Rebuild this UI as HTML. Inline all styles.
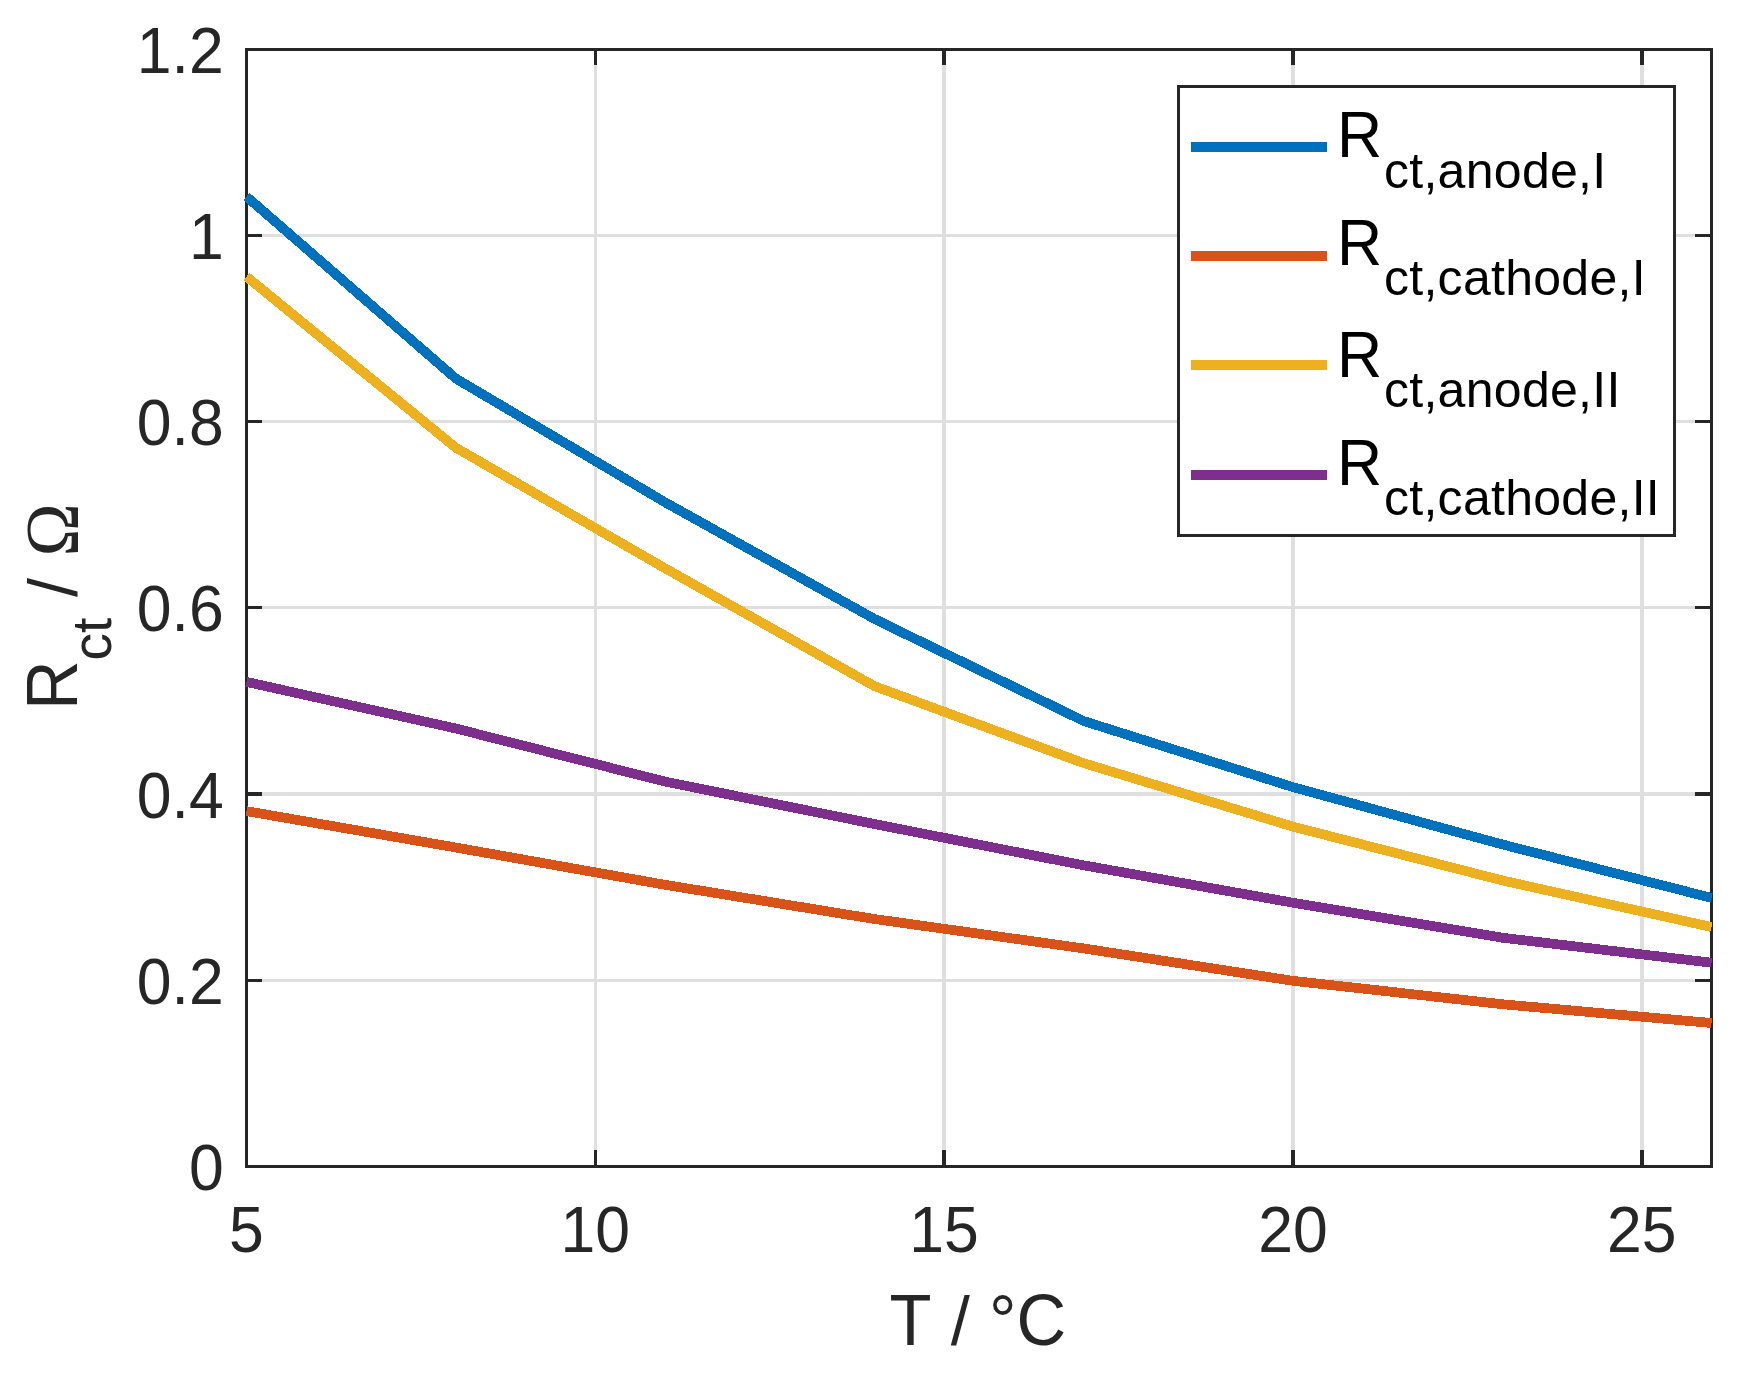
<!DOCTYPE html>
<html lang="en">
<head>
<meta charset="utf-8">
<title>Rct vs T</title>
<style>
html,body{margin:0;padding:0;background:#fff;}
body{width:1742px;height:1374px;overflow:hidden;}
svg{display:block;}
text{font-family:"Liberation Sans", sans-serif;font-kerning:none;}
.tk{font-size:62.5px;fill:#262626;}
.lb{font-size:68.75px;fill:#262626;}
.ls{font-size:55px;fill:#262626;}
.om{font-size:68.75px;fill:#262626;font-family:"Liberation Serif",serif;}
.lg{font-size:62.5px;fill:#000;}
.sb{font-size:50px;fill:#000;letter-spacing:0.28px;}
</style>
</head>
<body>
<svg width="1742" height="1374" viewBox="0 0 1742 1374">
<rect x="0" y="0" width="1742" height="1374" fill="#ffffff"/>
<g fill="#dfdfdf" shape-rendering="crispEdges">
<rect x="594" y="51" width="3" height="1114"/>
<rect x="942" y="51" width="4" height="1114"/>
<rect x="1291" y="51" width="4" height="1114"/>
<rect x="1640" y="51" width="4" height="1114"/>
<rect x="248" y="234" width="1462" height="3"/>
<rect x="248" y="420" width="1462" height="3"/>
<rect x="248" y="606" width="1462" height="3"/>
<rect x="248" y="792" width="1462" height="4"/>
<rect x="248" y="979" width="1462" height="3"/>
</g>
<g fill="#262626" shape-rendering="crispEdges">
<rect x="245" y="48" width="1468" height="3"/>
<rect x="245" y="1165" width="1468" height="3"/>
<rect x="245" y="48" width="3" height="1120"/>
<rect x="1710" y="48" width="3" height="1120"/>
<rect x="594" y="1150" width="3" height="15"/>
<rect x="594" y="51" width="3" height="14"/>
<rect x="942" y="1150" width="4" height="15"/>
<rect x="942" y="51" width="4" height="14"/>
<rect x="1291" y="1150" width="4" height="15"/>
<rect x="1291" y="51" width="4" height="14"/>
<rect x="1640" y="1150" width="4" height="15"/>
<rect x="1640" y="51" width="4" height="14"/>
<rect x="248" y="234" width="14" height="3"/>
<rect x="1695" y="234" width="15" height="3"/>
<rect x="248" y="420" width="14" height="3"/>
<rect x="1695" y="420" width="15" height="3"/>
<rect x="248" y="606" width="14" height="3"/>
<rect x="1695" y="606" width="15" height="3"/>
<rect x="248" y="792" width="14" height="4"/>
<rect x="1695" y="792" width="15" height="4"/>
<rect x="248" y="979" width="14" height="3"/>
<rect x="1695" y="979" width="15" height="3"/>
</g>
<g fill="none" stroke-width="9.7" stroke-linejoin="miter" stroke-linecap="butt" shape-rendering="crispEdges">
<polyline stroke="#0072BD" points="246.5,196.6 455.8,378.5 665.1,502.3 874.4,618.9 1083.6,721.0 1292.9,787.1 1502.2,844.4 1711.5,897.9"/>
<polyline stroke="#D95319" points="246.5,811.1 455.8,847.5 665.1,884.8 874.4,919.0 1083.6,948.4 1292.9,980.8 1502.2,1004.2 1711.5,1023.0"/>
<polyline stroke="#EDB120" points="246.5,276.6 455.8,447.7 665.1,568.3 874.4,686.1 1083.6,763.1 1292.9,826.6 1502.2,880.4 1711.5,927.0"/>
<polyline stroke="#7E2F8E" points="246.5,681.9 455.8,728.5 665.1,781.6 874.4,824.0 1083.6,865.3 1292.9,902.7 1502.2,937.7 1711.5,962.7"/>
</g>
<text class="tk" transform="translate(223.70,72.90) scale(1,1.032)" text-anchor="end">1.2</text>
<text class="tk" transform="translate(223.70,259.07) scale(1,1.032)" text-anchor="end">1</text>
<text class="tk" transform="translate(223.70,445.23) scale(1,1.032)" text-anchor="end">0.8</text>
<text class="tk" transform="translate(223.70,631.40) scale(1,1.032)" text-anchor="end">0.6</text>
<text class="tk" transform="translate(223.70,817.57) scale(1,1.032)" text-anchor="end">0.4</text>
<text class="tk" transform="translate(223.70,1003.73) scale(1,1.032)" text-anchor="end">0.2</text>
<text class="tk" transform="translate(223.70,1189.90) scale(1,1.032)" text-anchor="end">0</text>
<text class="tk" transform="translate(246.50,1251.70) scale(1,1.032)" text-anchor="middle">5</text>
<text class="tk" transform="translate(595.30,1251.70) scale(1,1.032)" text-anchor="middle">10</text>
<text class="tk" transform="translate(944.10,1251.70) scale(1,1.032)" text-anchor="middle">15</text>
<text class="tk" transform="translate(1292.90,1251.70) scale(1,1.032)" text-anchor="middle">20</text>
<text class="tk" transform="translate(1641.70,1251.70) scale(1,1.032)" text-anchor="middle">25</text>
<text class="lb" transform="translate(889.60,1344.70) scale(1,1.04)">T</text>
<text class="lb" transform="translate(950.72,1344.70) scale(1,1)">/</text>
<text class="lb" transform="translate(988.94,1344.70) scale(1,1.04)">°C</text>
<g transform="translate(77.2,710.1) rotate(-90)">
<text class="lb" transform="translate(0.00,0.00) scale(1,1.04)">R</text>
<text class="ls" transform="translate(49.60,33.50) scale(1,1)">ct</text>
<text class="lb" transform="translate(113.20,0.00) scale(1,1)">/</text>
<text class="om" transform="translate(153.50,0.70) scale(1.044,1.118)">Ω</text>
</g>
<rect x="1178.5" y="86.5" width="496" height="449" fill="#ffffff" stroke="#262626" stroke-width="3" shape-rendering="crispEdges"/>
<rect x="1191" y="142" width="136" height="10" fill="#0072BD" shape-rendering="crispEdges"/>
<text class="lg" transform="translate(1337.10,157.20) scale(1,1.04)">R</text>
<text class="sb" transform="translate(1384.00,187.90) scale(1,1)">ct,anode,I</text>
<rect x="1191" y="251" width="136" height="10" fill="#D95319" shape-rendering="crispEdges"/>
<text class="lg" transform="translate(1337.10,265.10) scale(1,1.04)">R</text>
<text class="sb" transform="translate(1384.00,295.40) scale(1,1)">ct,cathode,I</text>
<rect x="1191" y="360" width="136" height="10" fill="#EDB120" shape-rendering="crispEdges"/>
<text class="lg" transform="translate(1337.10,376.90) scale(1,1.04)">R</text>
<text class="sb" transform="translate(1384.00,407.00) scale(1,1)">ct,anode,II</text>
<rect x="1191" y="470" width="136" height="10" fill="#7E2F8E" shape-rendering="crispEdges"/>
<text class="lg" transform="translate(1337.10,485.10) scale(1,1.04)">R</text>
<text class="sb" transform="translate(1384.00,515.00) scale(1,1)">ct,cathode,II</text>
</svg>
</body>
</html>
